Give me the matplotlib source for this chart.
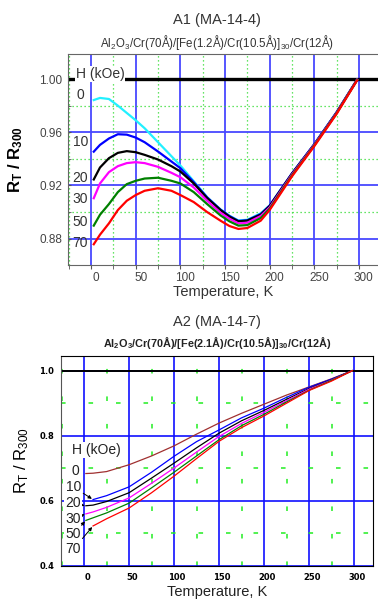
import matplotlib
matplotlib.use("Agg")
import matplotlib.pyplot as plt
import matplotlib.transforms as mtransforms
from matplotlib.ticker import MultipleLocator, FormatStrFormatter

plt.rcParams["font.family"] = ["Liberation Sans", "DejaVu Sans"]
plt.rcParams["mathtext.default"] = "regular"

# ---- A1 (MA-14-4): R_T/R_300 vs T for several fields ----
FIELDS = ["0", "10", "20", "30", "50", "70"]
T1 = [3, 10, 20, 30, 40, 50, 60, 75, 90, 100, 115, 130, 145, 155, 165, 175, 190, 200, 225, 250, 275, 298]
A1_H0 = [0.9842, 0.9858, 0.9850, 0.9800, 0.9745, 0.9690, 0.9630, 0.9525, 0.9420, 0.9350, 0.9232, 0.9112,
         0.9020, 0.8972, 0.8937, 0.8942, 0.8990, 0.9050, 0.9290, 0.9510, 0.9750, 0.9995]
A1_H10 = [0.9454, 0.9505, 0.9553, 0.9585, 0.9582, 0.9560, 0.9525, 0.9455, 0.9380, 0.9330, 0.9225, 0.9110,
          0.9018, 0.8970, 0.8933, 0.8938, 0.8985, 0.9048, 0.9290, 0.9510, 0.9750, 0.9995]
A1_H20 = [0.9245, 0.9335, 0.9405, 0.9445, 0.9458, 0.9450, 0.9430, 0.9395, 0.9345, 0.9305, 0.9215, 0.9105,
          0.9015, 0.8965, 0.8930, 0.8935, 0.8980, 0.9045, 0.9288, 0.9508, 0.9748, 0.9995]
A1_H30 = [0.9104, 0.9215, 0.9300, 0.9345, 0.9368, 0.9375, 0.9368, 0.9340, 0.9295, 0.9262, 0.9185, 0.9085,
          0.8995, 0.8950, 0.8915, 0.8920, 0.8970, 0.9035, 0.9282, 0.9505, 0.9746, 0.9995]
A1_H50 = [0.8898, 0.8980, 0.9060, 0.9150, 0.9210, 0.9235, 0.9252, 0.9258, 0.9235, 0.9215, 0.9150, 0.9060,
          0.8975, 0.8930, 0.8898, 0.8902, 0.8955, 0.9025, 0.9275, 0.9500, 0.9742, 0.9993]
A1_H70 = [0.8758, 0.8830, 0.8915, 0.9015, 0.9085, 0.9128, 0.9160, 0.9179, 0.9160, 0.9128, 0.9075, 0.9000,
          0.8935, 0.8895, 0.8873, 0.8880, 0.8935, 0.9015, 0.9268, 0.9495, 0.9738, 0.9990]
A1_CURVES = [A1_H0, A1_H10, A1_H20, A1_H30, A1_H50, A1_H70]
A1_COLORS = ["#22f0ff", "#0000ff", "#000000", "#ff00ff", "#008000", "#ff0000"]
A1_LABEL_Y = [0.9877, 0.9526, 0.9256, 0.9097, 0.8925, 0.8766]

# ---- A2 (MA-14-7) ----
T2 = [2, 10, 25, 50, 75, 100, 125, 150, 175, 200, 225, 250, 275, 298]
A2_H0 = [0.684, 0.685, 0.690, 0.711, 0.738, 0.769, 0.805, 0.839, 0.869, 0.897, 0.925, 0.950, 0.975, 1.000]
A2_H10 = [None, 0.604, 0.616, 0.643, 0.688, 0.737, 0.782, 0.818, 0.855, 0.885, 0.918, 0.949, 0.974, 1.000]
A2_H20 = [0.585, 0.587, 0.598, 0.625, 0.670, 0.716, 0.763, 0.808, 0.846, 0.878, 0.912, 0.945, 0.972, 1.000]
A2_H30 = [0.560, 0.566, 0.580, 0.609, 0.654, 0.701, 0.750, 0.798, 0.838, 0.872, 0.908, 0.943, 0.971, 1.000]
A2_H50 = [0.540, 0.548, 0.563, 0.593, 0.640, 0.688, 0.738, 0.788, 0.831, 0.866, 0.904, 0.940, 0.970, 1.000]
A2_H70 = [None, 0.523, 0.545, 0.578, 0.625, 0.676, 0.730, 0.783, 0.825, 0.861, 0.900, 0.939, 0.968, 1.000]
A2_CURVES = [A2_H0, A2_H10, A2_H20, A2_H30, A2_H50, A2_H70]
A2_COLORS = ["#a03030", "#0000ff", "#000000", "#ff00ff", "#008000", "#ff0000"]
A2_LABEL_Y = [0.691, 0.643, 0.592, 0.545, 0.497, 0.451]

XTICKS = [0, 50, 100, 150, 200, 250, 300]

fig = plt.figure(figsize=(3.78, 5.99), dpi=100)


def shift_xlabels(ax, px):
    off = mtransforms.ScaledTranslation(px / 100, 0, fig.dpi_scale_trans)
    for lab in ax.get_xticklabels():
        lab.set_transform(lab.get_transform() + off)


# ================= top panel =================
ax1 = fig.add_axes([0.180, 0.5576, 0.820, 0.3522])
ax1.set_xlim(-25.8, 321.4)
ax1.set_ylim(0.8602, 1.0188)
ax1.set_axisbelow(True)
ax1.xaxis.set_major_locator(MultipleLocator(50))
ax1.xaxis.set_minor_locator(MultipleLocator(25))
ax1.set_yticks([0.88, 0.92, 0.96, 1.00])
ax1.yaxis.set_minor_locator(MultipleLocator(0.02))
ax1.yaxis.set_major_formatter(FormatStrFormatter("%.2f"))
ax1.grid(which="major", color="#4848ff", lw=1.3)
ax1.grid(which="minor", color="#33dd33", lw=0.9, ls=(0, (1, 2.2)))
ax1.tick_params(axis="x", which="both", direction="out", length=3, color="#555",
                labelsize=8.5, labelcolor="#444", pad=2)
ax1.tick_params(axis="y", which="both", direction="in", length=2, color="#555",
                labelsize=8.5, labelcolor="#444", pad=4)
for s in ["left", "bottom", "top"]:
    ax1.spines[s].set_color("#666")
ax1.spines["right"].set_visible(False)

ax1.axhline(1.0, color="black", lw=2.4, zorder=2)
for ys, c in zip(A1_CURVES, A1_COLORS):
    ax1.plot(T1, ys, color=c, lw=1.6, zorder=3)

ax1.text(10, 1.0038, "H (kOe)", fontsize=10, color="#333", ha="center", va="center", zorder=4,
         bbox=dict(facecolor="white", edgecolor="none", pad=0.6))
for lab, y in zip(FIELDS, A1_LABEL_Y):
    ax1.text(-12, y, lab, fontsize=10, color="#333", ha="center", va="center", zorder=4)

ax1.set_xlabel("Temperature, K", fontsize=10.5, color="#333", labelpad=1)
ax1.set_ylabel("R$_T$ / R$_{300}$", fontsize=12, fontweight="bold", labelpad=10)
shift_xlabels(ax1, 5)
fig.text(0.574, 0.966, "A1 (MA-14-4)", fontsize=10.5, color="#333", ha="center", va="center")
fig.text(0.574, 0.929, "Al$_2$O$_3$/Cr(70Å)/[Fe(1.2Å)/Cr(10.5Å)]$_{30}$/Cr(12Å)",
         fontsize=8.3, color="#333", ha="center", va="center")

# ================= bottom panel =================
ax2 = fig.add_axes([0.1614, 0.0551, 0.8254, 0.3506])
ax2.set_xlim(-25.6, 321)
ax2.set_ylim(0.4, 1.045)
ax2.set_axisbelow(True)
ax2.set_xticks(XTICKS)
ax2.set_yticks([0.4, 0.6, 0.8, 1.0])
ax2.yaxis.set_major_formatter(FormatStrFormatter("%.1f"))
ax2.xaxis.set_minor_locator(MultipleLocator(25))
ax2.yaxis.set_minor_locator(MultipleLocator(0.1))
ax2.grid(which="major", color="#1010ff", lw=1.2)
ax2.grid(which="minor", color="#22ee22", lw=1.1, ls=(0, (3, 15)))
ax2.tick_params(which="both", length=0, labelsize=6, pad=5)
for lab in ax2.get_xticklabels() + ax2.get_yticklabels():
    lab.set_fontweight("bold")
    lab.set_family("DejaVu Sans")
shift_xlabels(ax2, 3)
ax2.spines["left"].set_color("#555")
ax2.axhline(1.0, color="black", lw=1.4, zorder=2)

for ys, c in zip(A2_CURVES, A2_COLORS):
    pts = [(t, v) for t, v in zip(T2, ys) if v is not None]
    ax2.plot([p[0] for p in pts], [p[1] for p in pts], color=c, lw=0.9, zorder=3)

ax2.text(14, 0.757, "H (kOe)", fontsize=10, color="#222", ha="center", va="center", zorder=4,
         bbox=dict(facecolor="white", edgecolor="none", pad=0.8))
ax2.text(-10, A2_LABEL_Y[0], FIELDS[0], fontsize=10, color="#222", ha="center", va="center", zorder=4)
starts = []
for ys in A2_CURVES[1:]:
    i = next(k for k, v in enumerate(ys) if v is not None)
    starts.append((T2[i], ys[i]))
for k, (lab, y, xy) in enumerate(zip(FIELDS[1:], A2_LABEL_Y[1:], starts)):
    bb = dict(facecolor="white", edgecolor="none", pad=0.8) if k < 4 else None
    ax2.annotate(lab, xy=xy, xytext=(-12, y), fontsize=10, color="#222", ha="center",
                 va="center", zorder=4, bbox=bb,
                 arrowprops=dict(arrowstyle="-|>", color="black", lw=0.7, mutation_scale=5,
                                 shrinkA=1, shrinkB=1))

ax2.set_xlabel("Temperature, K", fontsize=10.5, color="#222", labelpad=2)
ax2.set_ylabel("R$_T$ / R$_{300}$", fontsize=12, labelpad=6)
fig.text(0.574, 0.462, "A2 (MA-14-7)", fontsize=10.5, color="#333", ha="center", va="center")
fig.text(0.574, 0.427, "Al$_2$O$_3$/Cr(70Å)/[Fe(2.1Å)/Cr(10.5Å)]$_{30}$/Cr(12Å)",
         fontsize=7.8, fontweight="bold", color="#222", ha="center", va="center")

fig.savefig("out.png", dpi=100)
